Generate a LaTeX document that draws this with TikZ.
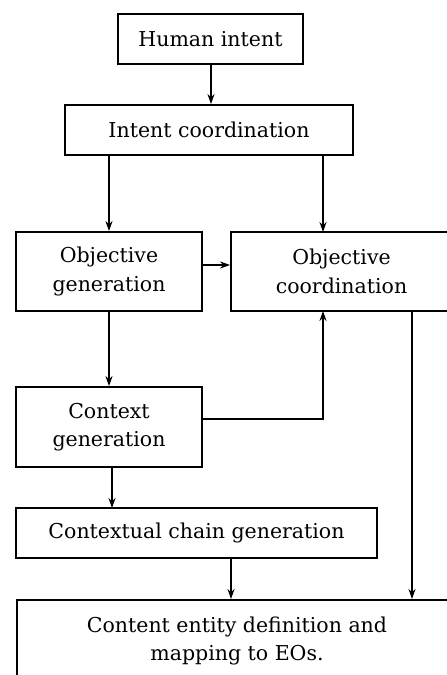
\documentclass[tikz,border=0pt]{standalone}
\usepackage{fontspec}
\setmainfont{DejaVu Serif}
\usetikzlibrary{arrows.meta,calc}
\begin{document}
\begin{tikzpicture}[x=1pt,y=-1pt,
  blk/.style={draw=black,line width=1.8pt,fill=white,inner sep=0pt,
    align=center,font=\fontsize{20.5}{28.5}\selectfont},
  flow/.style={draw=black,line width=1.8pt,-{Stealth[length=10pt,width=7pt]}}]
\useasboundingbox (0,0) rectangle (447,675);
\clip (0,0) rectangle (447,675);
\fill[white] (0,0) rectangle (447,675);

% process blocks
\node[blk,minimum width=185pt,minimum height=50pt] (hi) at (210.5,39) {Human intent};
\node[blk,minimum width=288pt,minimum height=50pt] (ic) at (209,130) {Intent coordination};
\node[blk,minimum width=186pt,minimum height=79pt] (og) at (109,271.5) {Objective\\generation};
\node[blk,minimum width=221pt,minimum height=79pt] (oc) at (341.5,271.5) {Objective\\coordination};
\node[blk,minimum width=186pt,minimum height=80pt] (cg) at (109,427) {Context\\generation};
\node[blk,minimum width=361pt,minimum height=50pt] (cc) at (196.5,533) {Contextual chain generation};
\node[blk,minimum width=442pt,minimum height=91pt,anchor=north west] (ce) at (16,599) {};
\node[font=\fontsize{20.5}{28.5}\selectfont,align=center] (cet) at (237,641) {Content entity definition and\\mapping to EOs.};

% entry points on the block edges
\coordinate (hib) at (211,64);
\coordinate (octop) at (323,232);
\coordinate (ocbot) at (323,311);
\coordinate (ogr) at (202,265);
\coordinate (cgr) at (202,419);
\coordinate (cgb) at (112,467);
\coordinate (ocdown) at (412,311);
\coordinate (cctop) at (112,508);
\coordinate (ccb) at (231,558);

% connectors
\draw[flow] (hib) -- (hib |- ic.north);
\draw[flow] (og.north |- ic.south) -- (og.north);
\draw[flow] (octop |- ic.south) -- (octop);
\draw[flow] (ogr) -- (ogr -| oc.west);
\draw[flow] (og.south) -- (cg.north);
\draw[flow] (cgr) -| (ocbot);
\draw[flow] (cgb) -- (cctop);
\draw[flow] (ccb) -- (ccb |- ce.north);
\draw[flow] (ocdown) -- (ocdown |- ce.north);
\end{tikzpicture}
\end{document}
